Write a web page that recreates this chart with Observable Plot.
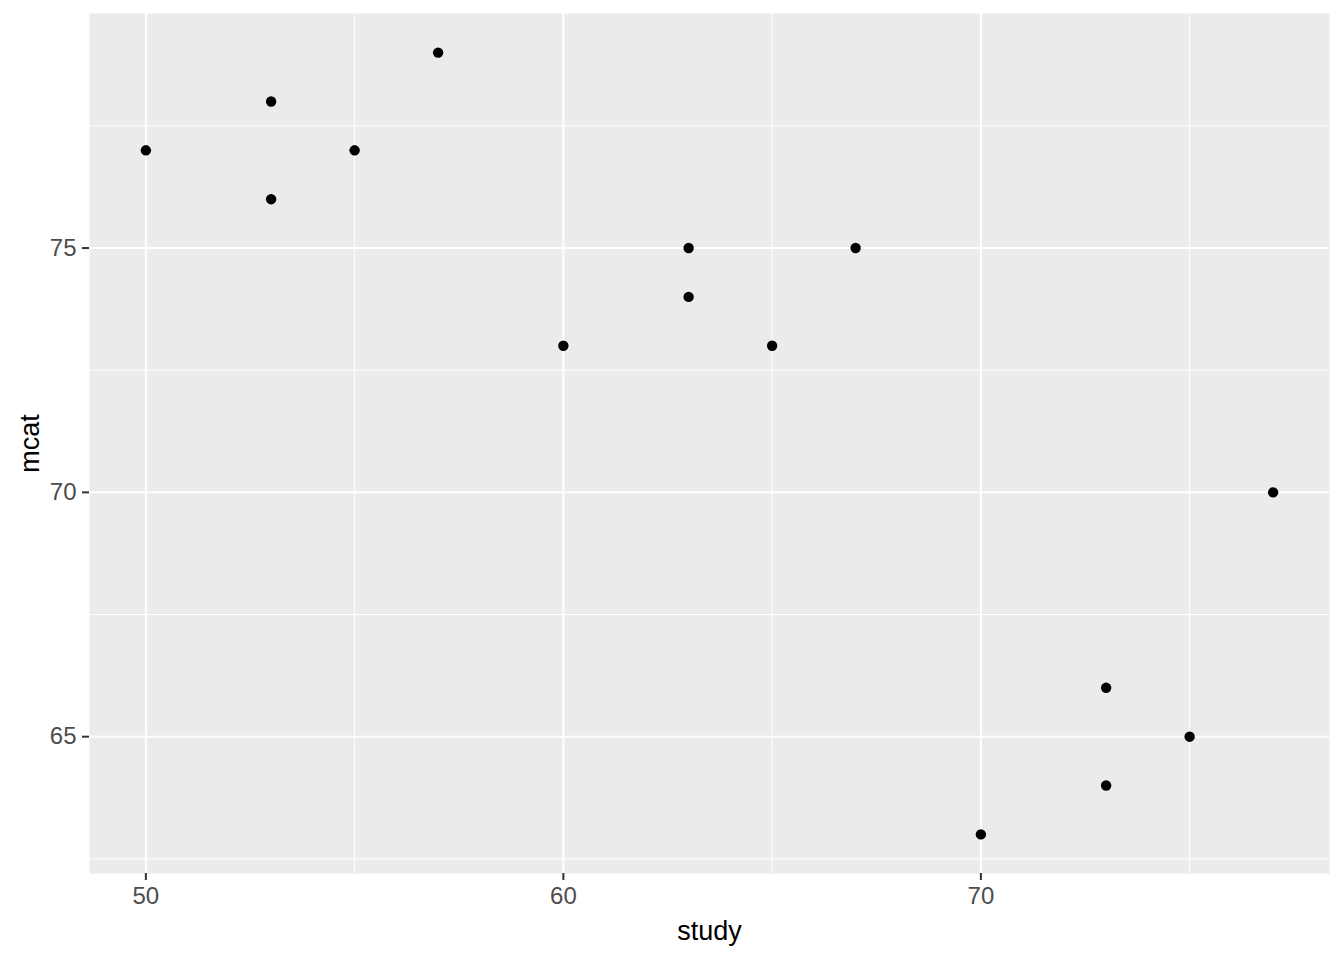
<!DOCTYPE html>
<html>
<head>
<meta charset="utf-8">
<script src="https://cdn.jsdelivr.net/npm/d3@7"></script>
<script src="https://cdn.jsdelivr.net/npm/@observablehq/plot@0.6"></script>
<style>
  html, body { margin: 0; padding: 0; background: #fff; }
  #chart svg [aria-label="x-axis tick label"], #chart svg [aria-label="y-axis tick label"] { fill: #4D4D4D; }
</style>
</head>
<body>
<div id="chart"></div>
<script>
const study = [50, 53, 53, 55, 57, 60, 63, 63, 65, 67, 70, 73, 73, 75, 77];
const mcat  = [77, 78, 76, 77, 79, 73, 75, 74, 73, 75, 63, 66, 64, 65, 70];
const xTicks = [50, 60, 70];
const yTicks = [65, 70, 75];
const xMinor = [55, 65, 75];
const yMinor = [62.5, 67.5, 72.5, 77.5];
const xTitle = "study";
const yTitle = "mcat";

const data = study.map((s, i) => ({study: s, mcat: mcat[i]}));

const chart = Plot.plot({
  width: 1344,
  height: 960,
  marginLeft: 89,
  marginRight: 15,
  marginTop: 13,
  marginBottom: 87,
  style: {fontFamily: "'Liberation Sans', Arial, sans-serif", background: "#fff"},
  x: {domain: [48.65, 78.35]},
  y: {domain: [62.2, 79.8]},
  marks: [
    Plot.frame({fill: "#EBEBEB", stroke: null}),
    Plot.ruleX(xMinor, {stroke: "#fff", strokeWidth: 1}),
    Plot.ruleY(yMinor, {stroke: "#fff", strokeWidth: 1}),
    Plot.ruleX(xTicks, {stroke: "#fff", strokeWidth: 2}),
    Plot.ruleY(yTicks, {stroke: "#fff", strokeWidth: 2}),
    Plot.dot(data, {x: "study", y: "mcat", r: 5.2, fill: "#000", stroke: null}),
    Plot.axisX({ticks: xTicks, tickSize: 7, tickPadding: 6, fontSize: 24, stroke: "#333333", strokeWidth: 2, label: null}),
    Plot.axisY({ticks: yTicks, tickSize: 7, tickPadding: 6, fontSize: 24, stroke: "#333333", strokeWidth: 2, label: null}),
    Plot.text([xTitle], {frameAnchor: "bottom", lineAnchor: "middle", dy: 58, text: d => d, fontSize: 27, fill: "#000"}),
    Plot.text([yTitle], {frameAnchor: "left", textAnchor: "middle", lineAnchor: "middle", dx: -59, rotate: -90, text: d => d, fontSize: 27, fill: "#000"})
  ]
});
document.getElementById("chart").appendChild(chart);
</script>
</body>
</html>
